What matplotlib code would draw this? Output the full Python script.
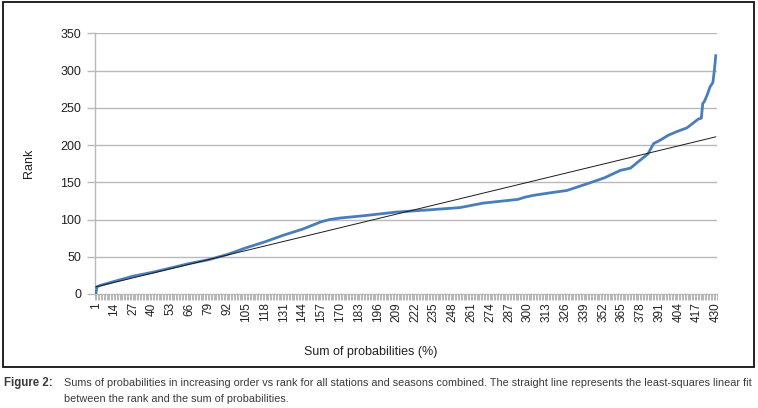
import matplotlib
matplotlib.use("Agg")
import matplotlib.pyplot as plt
from matplotlib.patches import Rectangle
from matplotlib.ticker import FixedLocator, NullFormatter

# ---- data ----
n_categories = 430
rank_idx = [1, 2, 5, 14, 27, 40, 53, 66, 79, 92, 105, 118, 131, 144, 157, 163,
            170, 186, 209, 232, 253, 269, 281, 293, 298, 304, 316, 327, 341,
            353, 364, 371, 376, 383, 387, 392, 397, 403, 410, 414, 418, 420,
            421, 422, 424, 426, 428, 429, 430]
rank_val = [0, 10, 12, 17, 24, 29, 35, 41, 46, 53, 62, 70, 79, 87, 97, 100,
            102, 105, 110, 113, 116, 122, 124.5, 127, 130, 132.5, 136, 139, 148,
            156, 166, 169, 177, 188, 202, 207, 213, 218, 223, 229, 235, 236,
            256, 258, 267, 278, 284, 300, 320]
fit_x = [1, 430]
fit_y = [9.5, 211]
tick_labels = list(range(1, 431, 13))
y_ticks = [0, 50, 100, 150, 200, 250, 300, 350]

FONT = ['Liberation Sans Narrow', 'Liberation Sans', 'DejaVu Sans']
plt.rcParams['font.family'] = FONT

W, H = 758, 408
fig = plt.figure(figsize=(W / 100, H / 100), dpi=100)

def fx(px):
    return px / W

def fy(py):
    return 1 - py / H

ax = fig.add_axes([fx(95), fy(294), fx(716.5) - fx(95), fy(33.3) - fy(294)])
ax.set_xlim(0.5, n_categories + 0.5)
ax.set_ylim(0, 350)

grid_c = '#b9b9b9'
for yv in y_ticks[1:]:
    ax.axhline(yv, color=grid_c, lw=1.0, zorder=0)

ax.plot(rank_idx, rank_val, color='#4a7ebb', lw=2.0, solid_joinstyle='round', zorder=3)
ax.plot(fit_x, fit_y, color='#1a1a1a', lw=0.7, zorder=4)

for s in ['top', 'right']:
    ax.spines[s].set_visible(False)
ax.spines['left'].set_color(grid_c)
ax.spines['bottom'].set_color(grid_c)
ax.spines['left'].set_linewidth(1.0)
ax.spines['bottom'].set_linewidth(1.0)

ax.set_yticks(y_ticks)
ax.set_yticklabels([str(v) for v in y_ticks])
ax.tick_params(axis='y', length=6, width=1.0, color=grid_c, labelsize=9,
               labelcolor='#222222', pad=4)

ax.set_xticks(tick_labels)
ax.set_xticklabels([str(v) for v in tick_labels], rotation=90)
ax.tick_params(axis='x', which='major', length=0, labelsize=8.5,
               labelcolor='#222222', pad=6)
ax.xaxis.set_minor_locator(FixedLocator([i + 0.5 for i in range(0, n_categories + 1)]))
ax.xaxis.set_minor_formatter(NullFormatter())
ax.tick_params(axis='x', which='minor', length=4, width=0.5, color='#9a9a9a')

fig.text(fx(29), fy(163), 'Rank', rotation=90, ha='center', va='center',
         fontsize=9, color='#222222')
fig.text(fx(371), fy(352), 'Sum of probabilities (%)', ha='center', va='center',
         fontsize=9, color='#222222')

fig.add_artist(Rectangle((fx(3), fy(367)), fx(754) - fx(3), fy(2) - fy(367),
                         transform=fig.transFigure, fill=False, lw=1.3, ec='#111111'))

cap_c = '#3a3a3a'
fig.text(fx(4), fy(383), 'Figure 2:', ha='left', va='center', fontsize=8.3,
         fontweight='bold', color=cap_c)
fig.text(fx(64), fy(383),
         'Sums of probabilities in increasing order vs rank for all stations and seasons combined. '
         'The straight line represents the least-squares linear fit',
         ha='left', va='center', fontsize=7.8, color=cap_c)
fig.text(fx(64), fy(399), 'between the rank and the sum of probabilities.',
         ha='left', va='center', fontsize=7.8, color=cap_c)

fig.savefig('out.png', dpi=100)
